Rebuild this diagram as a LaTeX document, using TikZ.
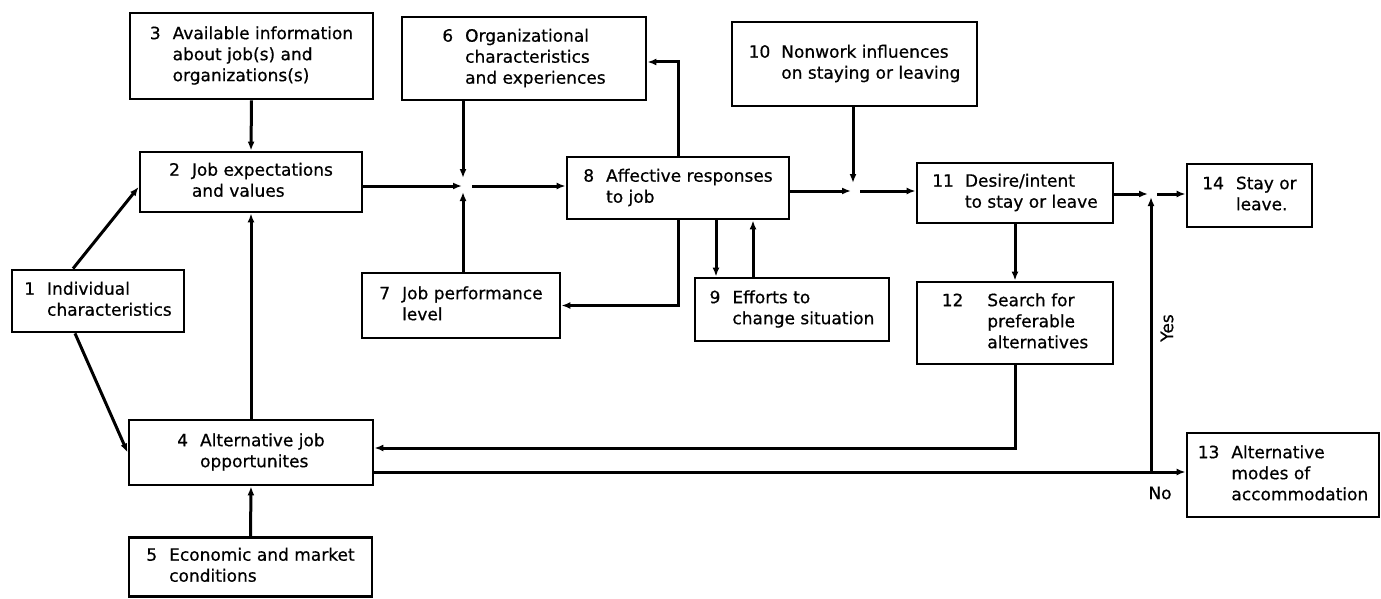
\documentclass[tikz,border=0pt]{standalone}
\usepackage{fontspec}
\newfontfamily\boxfont{DejaVu Sans}[FakeBold=0.6]
\usetikzlibrary{arrows.meta}
\tikzset{
  box/.style={draw, line width=2.8pt, rectangle, inner sep=0pt,
    font=\boxfont\fontsize{17}{21}\selectfont},
  conn/.style={line width=3pt},
  arr/.style={conn, -{Latex[length=9pt,width=7pt]}},
  lbl/.style={font=\boxfont\fontsize{17}{21}\selectfont}
}
\begin{document}
\begin{tikzpicture}[x=1pt,y=-1pt]
\fill[white] (0,0) rectangle (1381,599);
\useasboundingbox (0,0) rectangle (1381,599);

% boxes
\node[box, minimum width=243pt, minimum height=86pt] (b3) at (251.5,56)
  {\begin{tabular}{@{}l@{\hspace{12pt}}l@{}}3 & Available information\\ & about job(s) and\\ & organizations(s)\end{tabular}};
\node[box, minimum width=222pt, minimum height=60pt] (b2) at (251,182)
  {\begin{tabular}{@{}l@{\hspace{12pt}}l@{}}2 & Job expectations\\ & and values\end{tabular}};
\node[box, minimum width=172pt, minimum height=62pt] (b1) at (98,301)
  {\begin{tabular}{@{}l@{\hspace{12pt}}l@{}}1 & Individual\\ & characteristics\end{tabular}};
\node[box, minimum width=244pt, minimum height=65pt] (b4) at (251,452.5)
  {\begin{tabular}{@{}l@{\hspace{12pt}}l@{}}4 & Alternative job\\ & opportunites\end{tabular}};
\node[box, minimum width=243pt, minimum height=59pt] (b5) at (250.5,567)
  {\begin{tabular}{@{}l@{\hspace{12pt}}l@{}}5 & Economic and market\\ & conditions\end{tabular}};
\node[box, minimum width=244pt, minimum height=83pt] (b6) at (524,58.5)
  {\begin{tabular}{@{}l@{\hspace{12pt}}l@{}}6 & Organizational\\ & characteristics\\ & and experiences\end{tabular}};
\node[box, minimum width=198pt, minimum height=65pt] (b7) at (461,305.5)
  {\begin{tabular}{@{}l@{\hspace{12pt}}l@{}}7 & Job performance\\ & level\end{tabular}};
\node[box, minimum width=222pt, minimum height=62pt] (b8) at (678,188)
  {\begin{tabular}{@{}l@{\hspace{12pt}}l@{}}8 & Affective responses\\ & to job\end{tabular}};
\node[box, minimum width=194pt, minimum height=63pt] (b9) at (792,309.5)
  {\begin{tabular}{@{}l@{\hspace{12pt}}l@{}}9 & Efforts to\\ & change situation\end{tabular}};
\node[box, minimum width=245pt, minimum height=84pt] (b10) at (854.5,64)
  {\begin{tabular}{@{}l@{\hspace{11pt}}l@{}}10 & Nonwork influences\\ & on staying or leaving\end{tabular}};
\node[box, minimum width=196pt, minimum height=60pt] (b11) at (1015,193)
  {\begin{tabular}{@{}l@{\hspace{11pt}}l@{}}11 & Desire/intent\\ & to stay or leave\end{tabular}};
\node[box, minimum width=196pt, minimum height=82pt] (b12) at (1015,323)
  {\begin{tabular}{@{}l@{\hspace{24pt}}l@{}}12 & Search for\\ & preferable\\ & alternatives\end{tabular}};
\node[box, minimum width=125pt, minimum height=63pt] (b14) at (1249.5,195.5)
  {\begin{tabular}{@{}l@{\hspace{12pt}}l@{}}14 & Stay or\\ & leave.\end{tabular}};
\node[box, minimum width=192pt, minimum height=84pt] (b13) at (1283,475)
  {\begin{tabular}{@{}l@{\hspace{12pt}}l@{}}13 & Alternative\\ & modes of\\ & accommodation\end{tabular}};

% junction points and routing rows/columns
\coordinate (j1) at (463,186);
\coordinate (j2) at (853,191);
\coordinate (j3) at (1151,194);
\coordinate (no) at (1151,472);
\coordinate (c89) at (716,0);
\coordinate (c98) at (753,0);
\coordinate (r124) at (0,448);
\coordinate (r86) at (0,62);

% left part
\draw[arr] (b3.south) -- (b2.north);
\draw[arr] ([xshift=-25pt]b1.north) -- ([yshift=-5pt]b2.west);
\draw[arr] ([xshift=-23pt]b1.south) -- (b4.west);
\draw[arr] (b4.north) -- (b2.south);
\draw[arr] (b5.north) -- (b4.south);

% first summing point
\draw[arr] (b2.east |- j1) -- ([xshift=-1pt]j1);
\draw[arr] (b6.south -| j1) -- ([yshift=8pt]j1);
\draw[arr] (b7.north -| j1) -- ([yshift=-6pt]j1);
\draw[arr] ([xshift=9pt]j1) -- (b8.west |- j1);

% feedback from affective responses
\draw[arr] (b8.north) |- (b6.east |- r86);
\draw[arr] (b8.south) |- (b7.east);
\draw[arr] (b8.south -| c89) -- (b9.north -| c89);
\draw[arr] (b9.north -| c98) -- (b8.south -| c98);

% second summing point
\draw[arr] (b8.east |- j2) -- ([xshift=-2pt]j2);
\draw[arr] (b10.south -| j2) -- ([yshift=8pt]j2);
\draw[arr] ([xshift=7pt]j2) -- (b11.west |- j2);

% desire/intent and search
\draw[arr] (b11.south) -- (b12.north);
\draw[arr] (b12.south) |- (b4.east |- r124);

% outcomes
\draw[arr] (b11.east |- j3) -- ([xshift=-3pt]j3);
\draw[arr] ([xshift=6pt]j3) -- (b14.west |- j3);
\draw[arr] (b4.east |- no) -- (b13.west |- no);
\draw[arr] (no) -- ([yshift=-3pt]j3);

\node[lbl, rotate=90] (yes) at (1167,328) {Yes};
\node[lbl] (nolbl) at (1160,493) {No};
\end{tikzpicture}
\end{document}
